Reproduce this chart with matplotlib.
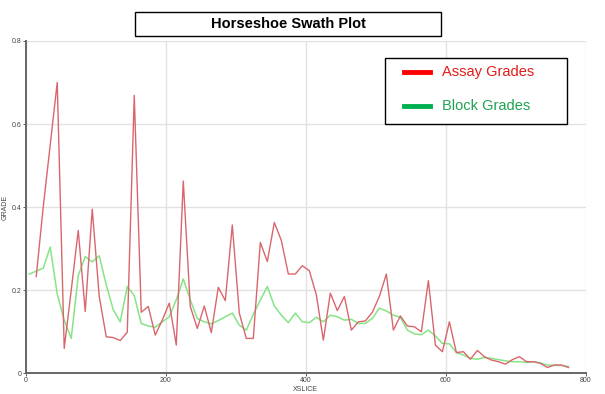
import matplotlib
matplotlib.use("Agg")
import matplotlib.pyplot as plt
from matplotlib.lines import Line2D
from matplotlib.patches import Rectangle

plt.rcParams['font.family'] = ['Liberation Sans', 'DejaVu Sans']

# slice positions (x) and grades
block_x = list(range(5, 776, 10))
block_grades = [0.239, 0.246, 0.253, 0.304, 0.191, 0.128, 0.084, 0.235, 0.281, 0.268,
                0.283, 0.213, 0.153, 0.124, 0.209, 0.187, 0.120, 0.114, 0.111, 0.124,
                0.136, 0.177, 0.227, 0.177, 0.132, 0.124, 0.119, 0.127, 0.136, 0.145,
                0.116, 0.104, 0.142, 0.176, 0.209, 0.162, 0.140, 0.122, 0.145, 0.124,
                0.122, 0.135, 0.124, 0.140, 0.136, 0.128, 0.130, 0.120, 0.120, 0.132,
                0.157, 0.150, 0.140, 0.135, 0.104, 0.095, 0.093, 0.104, 0.090, 0.072,
                0.071, 0.050, 0.044, 0.036, 0.034, 0.038, 0.036, 0.033, 0.030, 0.028,
                0.028, 0.026, 0.028, 0.025, 0.020, 0.019, 0.019, 0.016]

assay_x = list(range(15, 776, 10))
assay_grades = [0.233, 0.40, 0.55, 0.70, 0.060, 0.20, 0.344, 0.149, 0.395, 0.185,
                0.088, 0.086, 0.079, 0.099, 0.669, 0.147, 0.161, 0.092, 0.128, 0.169,
                0.068, 0.463, 0.161, 0.108, 0.162, 0.098, 0.207, 0.175, 0.357, 0.145,
                0.084, 0.084, 0.315, 0.269, 0.363, 0.320, 0.239, 0.239, 0.259, 0.247,
                0.189, 0.080, 0.193, 0.151, 0.185, 0.104, 0.124, 0.126, 0.147, 0.185,
                0.239, 0.104, 0.138, 0.114, 0.112, 0.100, 0.223, 0.068, 0.052, 0.124,
                0.050, 0.052, 0.034, 0.055, 0.040, 0.032, 0.028, 0.022, 0.033, 0.040,
                0.028, 0.028, 0.024, 0.014, 0.020, 0.020, 0.014]

x_ticks = [0, 200, 400, 600, 800]
y_ticks = [0, 0.2, 0.4, 0.6, 0.8]
y_ticklabels = ['0', '0.2', '0.4', '0.6', '0.8']
legend_labels = ['Assay Grades', 'Block Grades']

fig = plt.figure(figsize=(6.05, 3.94), dpi=100)
ax = fig.add_axes([0.0425, 0.0525, 0.926, 0.8435])

ax.plot(block_x, block_grades, color='#86e486', lw=1.1, zorder=3)
ax.plot(assay_x, assay_grades, color='#d9666c', lw=1.0, zorder=4)

ax.set_xlim(0, 800)
ax.set_ylim(0, 0.8)
ax.set_xticks(x_ticks)
ax.set_yticks(y_ticks)
ax.set_yticklabels(y_ticklabels)
ax.tick_params(labelsize=5, colors='#444444', length=2, width=0.6, pad=1)
ax.grid(True, color='#e2e2e2', lw=1)
ax.set_axisbelow(True)
for s in ['top', 'right']:
    ax.spines[s].set_visible(False)
for s in ['left', 'bottom']:
    ax.spines[s].set_color('#666666')
    ax.spines[s].set_linewidth(1.4)
ax.set_xlabel('XSLICE', fontsize=5, color='#444444', labelpad=1)
ax.set_ylabel('GRADE', fontsize=5, color='#444444', labelpad=2)

# title box
fig.patches.append(Rectangle((0.223, 0.9086), 0.506, 0.061, transform=fig.transFigure,
                             fill=False, edgecolor='black', lw=1))
fig.text(0.476, 0.939, 'Horseshoe Swath Plot', ha='center', va='center',
         fontsize=10.5, fontweight='bold')

# legend box, drawn by hand to match the original size
fig.patches.append(Rectangle((0.636, 0.685), 0.301, 0.1675, transform=fig.transFigure,
                             facecolor='white', edgecolor='black', lw=1, zorder=5))
for lab, lcol, tcol, yy in zip(legend_labels, ['#ff0000', '#00b050'],
                               ['#e31b1b', '#1ea352'], [0.818, 0.732]):
    fig.add_artist(Line2D([0.668, 0.711], [yy, yy], transform=fig.transFigure,
                          color=lcol, lw=3.5, zorder=6))
    fig.text(0.7306, yy, lab, ha='left', va='center', fontsize=10.5, color=tcol, zorder=6)

fig.savefig('out.png', dpi=100)
